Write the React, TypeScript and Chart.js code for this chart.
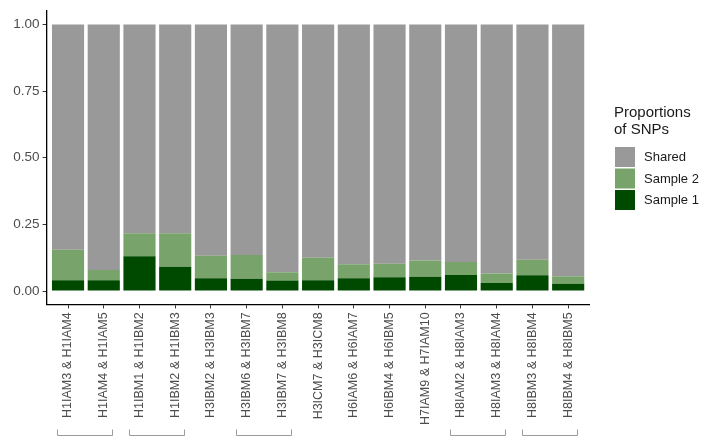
import React, { useEffect, useRef } from "react";
import { Chart, registerables } from "chart.js";

Chart.register(...registerables);

const pairLabels = [
  "H1IAM3 & H1IAM4",
  "H1IAM4 & H1IAM5",
  "H1IBM1 & H1IBM2",
  "H1IBM2 & H1IBM3",
  "H3IBM2 & H3IBM3",
  "H3IBM6 & H3IBM7",
  "H3IBM7 & H3IBM8",
  "H3ICM7 & H3ICM8",
  "H6IAM6 & H6IAM7",
  "H6IBM4 & H6IBM5",
  "H7IAM9 & H7IAM10",
  "H8IAM2 & H8IAM3",
  "H8IAM3 & H8IAM4",
  "H8IBM3 & H8IBM4",
  "H8IBM4 & H8IBM5",
];

const sample1 = [0.041, 0.041, 0.131, 0.091, 0.048, 0.046, 0.04, 0.041, 0.048, 0.052, 0.054, 0.06, 0.03, 0.059, 0.027];
const sample2 = [0.114, 0.038, 0.086, 0.126, 0.084, 0.089, 0.031, 0.084, 0.053, 0.05, 0.061, 0.049, 0.036, 0.058, 0.029];
const shared = [0.845, 0.921, 0.783, 0.783, 0.868, 0.865, 0.929, 0.875, 0.899, 0.898, 0.885, 0.891, 0.934, 0.883, 0.944];

const yTicks = [0, 0.25, 0.5, 0.75, 1.0];
const bracketPairs: [number, number][] = [[0, 1], [2, 3], [5, 6], [11, 12], [13, 14]];
const legendTitle = ["Proportions", "of SNPs"];

const FONT = "'Liberation Sans', Arial, Helvetica, sans-serif";

export default function App() {
  const ref = useRef<HTMLCanvasElement | null>(null);

  useEffect(() => {
    if (!ref.current) return;
    const toPts = (arr: number[]) => arr.map((v, i) => ({ x: i, y: v }));

    const overlay = {
      id: "overlay",
      afterDraw(chart: any) {
        const ctx = chart.ctx;
        const xs = chart.scales.x;
        // brackets
        ctx.save();
        ctx.strokeStyle = "#9a9a9a";
        ctx.lineWidth = 1;
        const by = 435.5;
        const bh = 6;
        bracketPairs.forEach(([a, b]) => {
          const x0 = Math.round(xs.getPixelForValue(a - 0.3)) + 0.5;
          const x1 = Math.round(xs.getPixelForValue(b + 0.24)) + 0.5;
          ctx.beginPath();
          ctx.moveTo(x0, by - bh);
          ctx.lineTo(x0, by);
          ctx.lineTo(x1, by);
          ctx.lineTo(x1, by - bh);
          ctx.stroke();
        });
        ctx.restore();

        // legend
        ctx.save();
        const lx = 615;
        ctx.fillStyle = "#1a1a1a";
        ctx.font = `15px ${FONT}`;
        ctx.textAlign = "left";
        ctx.textBaseline = "alphabetic";
        ctx.fillText(legendTitle[0], lx - 1, 117);
        ctx.fillText(legendTitle[1], lx - 1, 134);
        const ds = chart.data.datasets.slice().reverse();
        ds.forEach((d: any, k: number) => {
          const ky = 147 + k * 21.5;
          ctx.fillStyle = d.backgroundColor;
          ctx.fillRect(lx, ky, 20, 20);
          ctx.fillStyle = "#1a1a1a";
          ctx.font = `13px ${FONT}`;
          ctx.textBaseline = "middle";
          ctx.fillText(d.label, 644, ky + 10.5);
        });
        ctx.restore();
      },
    };

    const chart = new Chart(ref.current, {
      type: "bar",
      data: {
        datasets: [
          { label: "Sample 1", data: toPts(sample1) as any, backgroundColor: "#004a00", borderWidth: 0 },
          { label: "Sample 2", data: toPts(sample2) as any, backgroundColor: "#78a36a", borderWidth: 0 },
          { label: "Shared", data: toPts(shared) as any, backgroundColor: "#999999", borderWidth: 0 },
        ],
      },
      options: {
        animation: false,
        responsive: false,
        maintainAspectRatio: false,
        layout: { padding: { top: 10.6, right: 119.4, bottom: 0, left: 0 } },
        datasets: { bar: { barPercentage: 0.9, categoryPercentage: 1.0 } } as any,
        plugins: { legend: { display: false }, tooltip: { enabled: false } },
        scales: {
          x: {
            type: "linear",
            stacked: true,
            offset: false,
            min: -0.6,
            max: 14.6,
            afterBuildTicks: (axis: any) => {
              axis.ticks = pairLabels.map((_, i) => ({ value: i }));
            },
            afterFit: (scale: any) => {
              scale.height = 142.6;
            },
            ticks: {
              autoSkip: false,
              maxRotation: 90,
              minRotation: 90,
              padding: 4,
              color: "#4d4d4d",
              font: { family: FONT, size: 12.5 },
              callback: (v: any) => pairLabels[Math.round(Number(v))],
            },
            grid: { offset: false, drawOnChartArea: false, drawTicks: true, tickLength: 4, color: "#333333" },
            border: { display: true, color: "#000000", width: 1.3 },
          },
          y: {
            stacked: true,
            min: -0.05,
            max: 1.05,
            afterBuildTicks: (axis: any) => {
              axis.ticks = yTicks.map((v) => ({ value: v }));
            },
            afterFit: (scale: any) => {
              scale.width = 46.6;
            },
            ticks: {
              padding: 3,
              color: "#4d4d4d",
              font: { family: FONT, size: 13.5 },
              callback: (v: any) => Number(v).toFixed(2),
            },
            grid: { drawOnChartArea: false, drawTicks: true, tickLength: 4, color: "#333333" },
            border: { display: true, color: "#000000", width: 1.3 },
          },
        },
      },
      plugins: [overlay],
    });
    return () => chart.destroy();
  }, []);

  return (
    <div style={{ position: "absolute", left: 0, top: 0, width: 709, height: 447, background: "#fff" }}>
      <canvas ref={ref} width={709} height={447} style={{ display: "block" }} />
    </div>
  );
}
